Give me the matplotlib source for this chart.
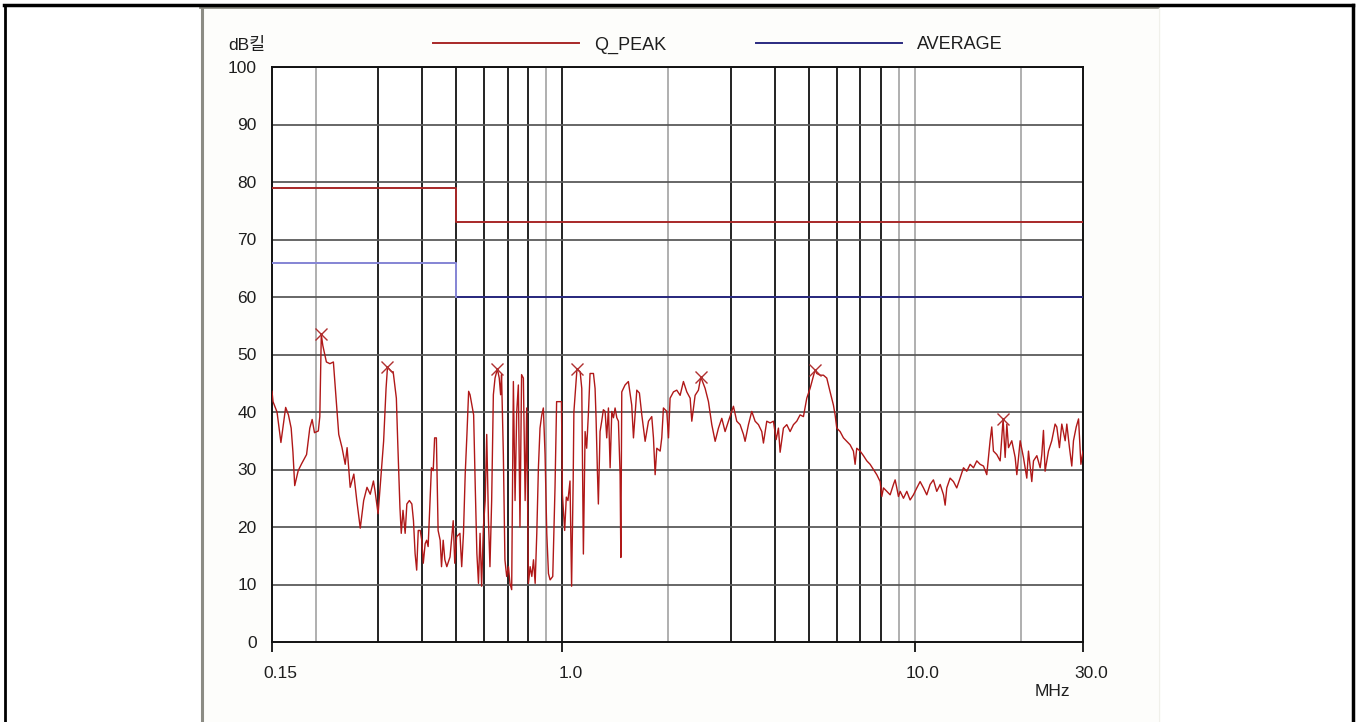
import matplotlib
matplotlib.use('Agg')
import matplotlib.pyplot as plt
import matplotlib.transforms as mtransforms
from matplotlib.lines import Line2D
from matplotlib.patches import Rectangle

W, H = 1356, 722

freq = [0.150, 0.151, 0.155, 0.159, 0.161, 0.164, 0.167, 0.170, 0.172, 0.174,
        0.178, 0.182, 0.188, 0.192, 0.195, 0.198, 0.203, 0.205, 0.207, 0.209,
        0.214, 0.219, 0.224, 0.229, 0.232, 0.237, 0.242, 0.245, 0.250, 0.256,
        0.261, 0.267, 0.273, 0.279, 0.285, 0.291, 0.294, 0.300, 0.304, 0.311,
        0.316, 0.319, 0.328, 0.331, 0.338, 0.341, 0.346, 0.349, 0.353, 0.358,
        0.362, 0.368, 0.374, 0.378, 0.382, 0.386, 0.390, 0.395, 0.399, 0.403,
        0.408, 0.412, 0.416, 0.421, 0.425, 0.430, 0.434, 0.439, 0.444, 0.450,
        0.454, 0.459, 0.464, 0.470, 0.480, 0.490, 0.495, 0.501, 0.512, 0.518,
        0.524, 0.530, 0.536, 0.542, 0.547, 0.560, 0.566, 0.572, 0.578, 0.584,
        0.590, 0.597, 0.604, 0.610, 0.617, 0.623, 0.630, 0.637, 0.644, 0.654,
        0.662, 0.668, 0.672, 0.680, 0.687, 0.695, 0.703, 0.710, 0.718, 0.726,
        0.734, 0.742, 0.750, 0.758, 0.766, 0.775, 0.784, 0.792, 0.801, 0.810,
        0.819, 0.828, 0.837, 0.846, 0.855, 0.864, 0.874, 0.883, 0.893, 0.903,
        0.913, 0.923, 0.939, 0.953, 0.963, 0.977, 0.994, 1.000, 1.015, 1.026,
        1.037, 1.051, 1.062, 1.073, 1.078, 1.100, 1.123, 1.135, 1.147, 1.160,
        1.172, 1.186, 1.198, 1.225, 1.238, 1.246, 1.257, 1.265, 1.279, 1.293,
        1.307, 1.322, 1.336, 1.351, 1.366, 1.381, 1.396, 1.411, 1.427, 1.442,
        1.458, 1.465, 1.474, 1.506, 1.539, 1.573, 1.591, 1.626, 1.654, 1.680,
        1.717, 1.755, 1.793, 1.813, 1.833, 1.853, 1.894, 1.914, 1.935, 1.978,
        2.000, 2.021, 2.066, 2.111, 2.158, 2.205, 2.254, 2.304, 2.329, 2.380,
        2.432, 2.470, 2.541, 2.597, 2.654, 2.713, 2.772, 2.833, 2.895, 2.959,
        3.024, 3.057, 3.124, 3.193, 3.264, 3.299, 3.372, 3.446, 3.522, 3.600,
        3.679, 3.719, 3.801, 3.885, 3.970, 4.041, 4.102, 4.147, 4.238, 4.332,
        4.427, 4.525, 4.624, 4.726, 4.830, 4.936, 5.044, 5.210, 5.269, 5.385,
        5.504, 5.625, 5.749, 5.875, 5.940, 6.005, 6.137, 6.272, 6.410, 6.551,
        6.695, 6.769, 6.842, 6.995, 7.149, 7.307, 7.467, 7.632, 7.798, 7.971,
        8.058, 8.147, 8.325, 8.510, 8.696, 8.792, 8.888, 8.985, 9.085, 9.284,
        9.489, 9.696, 9.910, 10.13, 10.35, 10.58, 10.81, 11.05, 11.29, 11.54,
        11.80, 12.06, 12.19, 12.32, 12.59, 12.87, 13.15, 13.44, 13.74, 14.04,
        14.35, 14.67, 14.99, 15.32, 15.66, 16.00, 16.18, 16.35, 16.53, 16.71,
        17.08, 17.46, 17.80, 17.92, 18.04, 18.24, 18.44, 18.84, 19.26, 19.47,
        19.90, 20.33, 20.78, 21.01, 21.47, 21.71, 22.19, 22.68, 22.92, 23.17,
        23.42, 23.94, 24.46, 25.00, 25.28, 25.72, 26.12, 26.70, 26.99, 27.46,
        27.88, 28.19, 28.70, 29.14, 29.59, 30.00]
level = [43.6, 41.8, 40.0, 34.7, 37.2, 40.8, 39.5, 37.2, 33.0, 27.2,
         29.8, 31.0, 32.6, 37.2, 38.7, 36.4, 36.7, 39.2, 53.5, 51.6,
         48.7, 48.4, 48.7, 40.7, 36.1, 33.8, 30.9, 33.8, 26.9, 29.2,
         24.6, 19.8, 24.6, 26.9, 25.7, 28.0, 26.3, 22.3, 26.9, 34.9,
         44.1, 47.8, 47.0, 47.0, 42.4, 34.9, 23.4, 18.9, 22.9, 18.9,
         24.0, 24.6, 24.0, 21.1, 15.4, 12.5, 19.4, 19.4, 17.7, 13.7,
         17.1, 17.7, 16.6, 24.0, 30.3, 29.8, 35.5, 35.5, 19.4, 17.7,
         13.1, 17.7, 14.3, 13.1, 14.8, 21.1, 13.7, 18.3, 18.9, 13.1,
         18.9, 29.2, 36.1, 43.6, 43.0, 39.5, 26.9, 15.4, 10.2, 18.9,
         9.7, 20.0, 24.6, 36.1, 21.1, 13.1, 24.6, 43.0, 45.9, 47.5,
         45.9, 43.0, 46.5, 32.6, 14.3, 11.4, 13.1, 10.2, 9.1, 45.3,
         24.6, 40.0, 44.7, 20.0, 46.5, 45.9, 24.6, 40.7, 10.2, 13.1,
         11.4, 14.3, 10.2, 18.9, 30.3, 37.2, 39.5, 40.7, 32.6, 18.9,
         11.9, 10.8, 11.4, 26.9, 41.8, 41.8, 41.8, 25.7, 19.4, 25.2,
         24.6, 28.0, 9.7, 28.0, 40.0, 47.5, 47.0, 44.1, 15.3, 36.6,
         33.7, 40.1, 46.7, 46.7, 44.1, 39.0, 29.7, 24.0, 36.6, 38.4,
         40.4, 40.1, 35.5, 40.7, 30.3, 40.1, 39.0, 40.7, 39.0, 38.4,
         29.1, 14.7, 43.5, 44.7, 45.3, 41.2, 35.5, 43.8, 43.3, 39.5,
         34.9, 38.4, 39.2, 35.5, 29.1, 33.7, 33.2, 35.5, 40.7, 40.1,
         35.5, 42.4, 43.5, 43.8, 42.9, 45.3, 43.5, 42.4, 38.4, 42.9,
         43.8, 46.1, 44.1, 41.8, 37.8, 34.9, 37.2, 38.9, 36.6, 38.4,
         40.1, 41.0, 38.4, 37.8, 36.1, 34.9, 37.8, 40.1, 38.4, 37.8,
         36.6, 34.6, 38.4, 38.1, 38.4, 35.2, 37.2, 33.0, 37.2, 37.8,
         36.6, 37.8, 38.4, 39.5, 39.2, 42.4, 44.1, 47.3, 46.7, 46.4,
         46.4, 45.9, 43.5, 41.2, 39.5, 37.2, 36.6, 35.5, 34.9, 34.3,
         33.2, 30.9, 33.7, 33.2, 32.4, 31.5, 30.9, 30.0, 29.1, 27.9,
         25.3, 26.8, 26.2, 25.6, 27.4, 28.2, 26.8, 25.3, 26.2, 25.0,
         26.2, 24.7, 25.6, 26.8, 27.9, 26.8, 25.6, 27.4, 28.2, 26.2,
         27.4, 25.6, 23.8, 26.8, 28.5, 27.9, 26.8, 28.5, 30.3, 29.7,
         30.9, 30.3, 31.5, 30.9, 30.6, 29.1, 32.1, 35.0, 37.4, 33.2,
         32.6, 31.5, 38.8, 35.6, 32.1, 37.9, 33.8, 35.0, 32.1, 29.1,
         35.0, 32.1, 28.5, 33.2, 27.9, 31.5, 32.4, 30.3, 32.6, 36.8,
         29.7, 33.2, 35.0, 37.9, 37.4, 33.8, 37.9, 35.0, 37.9, 33.8,
         30.6, 35.0, 37.4, 38.8, 30.9, 33.2]

# peaks marked with an x
peak_freq = [0.207, 0.319, 0.654, 1.100, 2.470, 5.210, 17.80]
peak_level = [53.5, 47.8, 47.5, 47.5, 46.1, 47.3, 38.8]

# limit lines
limit_freq = [0.15, 0.5, 30.0]
qpeak_limit = [79, 73, 73]
avg_limit = [66, 60, 60]

x_ticks = [0.15, 1.0, 10.0, 30.0]
x_ticklabels = ['0.15', '1.0', '10.0', '30.0']
y_ticks = list(range(0, 101, 10))
dark_vlines = [0.3, 0.4, 0.5, 0.6, 0.7, 0.8, 1.0, 3, 4, 5, 6, 7, 8]
light_vlines = [0.2, 0.9, 2, 9, 10, 20]

FONT = ['Liberation Sans', 'Noto Sans CJK KR', 'DejaVu Sans']
plt.rcParams['font.family'] = FONT
TXT = '#1e1e1e'


def fx(px):
    return px / W


def fy(py):
    return 1 - py / H


fig = plt.figure(figsize=(W / 100, H / 100), dpi=100)

# window frame bits
fig.add_artist(Rectangle((fx(203), 0), fx(1158) - fx(203), fy(8),
                         transform=fig.transFigure, facecolor='#fdfdfb',
                         edgecolor='none', zorder=0))
fig.add_artist(Line2D([fx(202), fx(202)], [0, fy(7)], transform=fig.transFigure,
                      color='#8c8c84', lw=2.2))
fig.add_artist(Line2D([fx(200), fx(1158)], [fy(7), fy(7)], transform=fig.transFigure,
                      color='#8c8c84', lw=2.0))
fig.add_artist(Line2D([fx(1159), fx(1159)], [0, fy(8)], transform=fig.transFigure,
                      color='#f0f0ea', lw=1.0))
fig.add_artist(Line2D([fx(4), fx(1353)], [fy(5), fy(5)], transform=fig.transFigure,
                      color='black', lw=2.5))
fig.add_artist(Line2D([fx(5), fx(5)], [0, fy(5)], transform=fig.transFigure,
                      color='black', lw=2.0))
fig.add_artist(Line2D([fx(1353), fx(1353)], [0, fy(5)], transform=fig.transFigure,
                      color='black', lw=2.5))

ax = fig.add_axes([fx(272), fy(642), fx(1083) - fx(272), fy(67) - fy(642)])
ax.set_facecolor('white')
ax.set_xscale('log')
ax.set_xlim(0.15, 30)
ax.set_ylim(0, 100)

for v in light_vlines:
    ax.axvline(v, color='#9a9a9a', lw=1.1, zorder=1)
for v in dark_vlines:
    ax.axvline(v, color='#111111', lw=1.3, zorder=1)
for v in y_ticks[1:]:
    ax.axhline(v, color='#5a5a5a', lw=1.3, zorder=1)

qp_line, = ax.plot(limit_freq, qpeak_limit, drawstyle='steps-post',
                   color='#a82828', lw=1.4, zorder=3)
av_line, = ax.plot(limit_freq, avg_limit, drawstyle='steps-post',
                   color='#2a2a80', lw=1.4, zorder=3)
ax.plot(limit_freq[:2], avg_limit[:2], drawstyle='steps-post',
        color='#8a8ad8', lw=1.4, zorder=3)

ax.plot(freq, level, color='#b01818', lw=1.0, zorder=4)
ax.plot(peak_freq, peak_level, 'x', color='#b03030', ms=8, mew=1.0, zorder=5)

ax.set_xticks(x_ticks)
ax.set_xticklabels(x_ticklabels)
ax.xaxis.set_minor_locator(matplotlib.ticker.NullLocator())
ax.tick_params(axis='x', direction='out', length=7.5, width=1.3, color='#111111',
               pad=10, labelsize=12.5, labelcolor=TXT)
ax.get_xticklines()[4].set_color('#9a9a9a')
shift = mtransforms.ScaledTranslation(8 / 100, 0, fig.dpi_scale_trans)
for lab in ax.get_xticklabels():
    lab.set_transform(lab.get_transform() + shift)

ax.set_yticks(y_ticks)
ax.tick_params(axis='y', length=0, pad=11, labelsize=12.5, labelcolor=TXT)

for s in ax.spines.values():
    s.set_color('#111111')
    s.set_linewidth(1.4)

fig.text(fx(228), fy(45), 'dB킬', fontsize=12.5, color=TXT, va='center', ha='left')
fig.text(fx(1035), fy(692), 'MHz', fontsize=12.5, color=TXT, va='center', ha='left')

fig.legend([qp_line, av_line], ['Q_PEAK', 'AVERAGE'], loc='center left',
           bbox_to_anchor=(fx(433), fy(45)), ncol=2, frameon=False,
           borderpad=0, borderaxespad=0, handlelength=8.1, handletextpad=0.8,
           columnspacing=5.0, fontsize=13, labelcolor=TXT)

fig.savefig('out.png', dpi=100)
